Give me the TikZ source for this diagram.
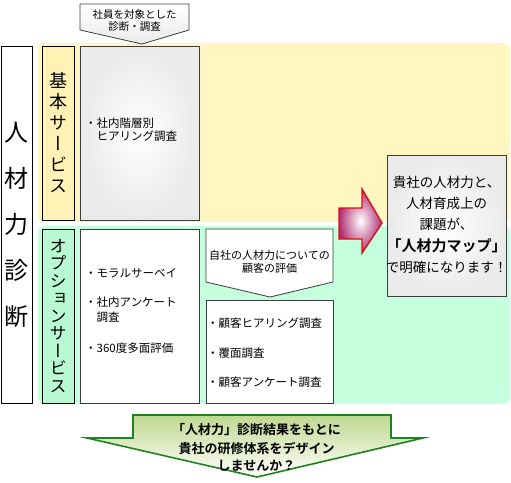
\documentclass[tikz,border=0pt]{standalone}
\usepackage{fontspec}
\setmainfont{Noto Sans CJK JP}[BoldFont={Noto Sans CJK JP Bold}]
\newfontfamily\vertfont[RawFeature=+vert]{Noto Sans CJK JP}
\definecolor{bgyellow}{RGB}{255,246,194}
\definecolor{bggreen}{RGB}{196,255,222}
\definecolor{lblyellow}{RGB}{255,242,180}
\definecolor{lblgreen}{RGB}{184,248,210}
\definecolor{boxgray}{RGB}{234,234,234}
\definecolor{linegray}{RGB}{60,60,60}
\definecolor{arrowpink}{RGB}{175,45,115}
\definecolor{arrowred}{RGB}{225,10,20}
\definecolor{callgreen}{RGB}{30,130,30}
\definecolor{callfill}{RGB}{192,216,144}
\tikzset{
  box/.style={draw=linegray, line width=0.8pt, inner sep=0pt},
  item/.style={anchor=west, inner sep=0pt, font=\fontsize{11.5}{13}\selectfont},
  note/.style={inner sep=0pt, font=\fontsize{10.5}{12}\selectfont},
  msg/.style={inner sep=0pt, font=\fontsize{13.5}{15}\selectfont}
}

\begin{document}
\begin{tikzpicture}[x=1pt,y=-1pt]
\useasboundingbox (0,0) rectangle (511,482);
% Backgrounds
\fill[bgyellow, rounded corners=6pt] (38,43) rectangle (510,222);
\fill[bggreen, rounded corners=6pt] (38,226) rectangle (510,404);

% Main label
\node[box, draw=black, fill=white, minimum width=31pt, minimum height=357pt, align=center,
  font=\fontsize{24}{46}\selectfont] (shindan) at (16.5,224.5) {人\\材\\力\\診\\断};

% Basic service
\node[box, draw=black, fill=lblyellow, minimum width=32pt, minimum height=174pt, align=center,
  font=\vertfont\fontsize{18}{21}\selectfont] (kihon) at (58,133) {基\\本\\サ\\ー\\ビ\\ス};
\node[box, minimum width=119pt, minimum height=174pt, inner color=white, outer color=boxgray] (kihonbox) at (139.5,133) {};
\node[item] (kihon1) at (85,123) {・社内階層別};
\node[item] (kihon2) at (96.5,136) {ヒアリング調査};

% Top callout
\draw[draw=linegray, line width=0.8pt, top color=white, bottom color=boxgray] (80,4) -- (189,4) -- (189,30) -- (142,44) -- (80,30) -- cycle;
\node[note] (target1) at (134.5,14.5) {社員を対象とした};
\node[note] (target2) at (134.5,27) {診断・調査};

% Option service
\node[box, draw=black, fill=lblgreen, minimum width=32pt, minimum height=174pt, align=center,
  font=\vertfont\fontsize{17}{17.5}\selectfont] (option) at (58,316) {オ\\プ\\シ\\ョ\\ン\\サ\\ー\\ビ\\ス};
\node[box, minimum width=119pt, minimum height=174pt, fill=white] (optbox) at (139.5,316) {};
\node[item] (opt1) at (85,273) {・モラルサーベイ};
\node[item] (opt2) at (85,302) {・社内アンケート};
\node[item] (opt3) at (96.5,317) {調査};
\node[item] (opt4) at (85,348) {・360度多面評価};

% Customer callout
\draw[draw=linegray, line width=0.8pt, fill=white] (206,229) -- (333,229) -- (333,282) -- (270,297) -- (206,282) -- cycle;
\node[note, font=\fontsize{11}{13}\selectfont] (kokyaku1) at (269.5,255) {自社の人材力についての};
\node[note, font=\fontsize{11}{13}\selectfont] (kokyaku2) at (269.5,268) {顧客の評価};
\node[box, minimum width=127pt, minimum height=103pt, fill=white] (custbox) at (269.5,351.5) {};
\node[item] (cust1) at (207,323) {・顧客ヒアリング調査};
\node[item] (cust2) at (207,353) {・覆面調査};
\node[item] (cust3) at (207,382) {・顧客アンケート調査};

% Arrow to result
\draw[draw=arrowred, line width=1.4pt, inner color=white, outer color=arrowpink]
  (339,208) -- (362,208) -- (362,189) -- (382,223) -- (362,253) -- (362,239) -- (339,239) -- cycle;

% Result
\node[box, minimum width=119pt, minimum height=141pt, inner color=white, outer color=boxgray] (result) at (446.5,225.5) {};
\node[msg] (res1) at (446.5,182) {貴社の人材力と、};
\node[msg] (res2) at (446.5,203) {人材育成上の};
\node[msg] (res3) at (446.5,224) {課題が、};
\node[msg, font=\bfseries\fontsize{15}{17}\selectfont] (res4) at (446.5,246) {「人材力マップ」};
\node[msg] (res5) at (446.5,267) {で明確になります！};

% Bottom callout
\draw[draw=callgreen, line width=1.6pt, top color=callfill, bottom color=white]
  (133,415) -- (391,415) -- (391,438) -- (423,438) -- (257,477) -- (87,438) -- (133,438) -- cycle;
\node[msg, font=\bfseries\fontsize{13}{15}\selectfont] (design1) at (256.5,430) {「人材力」診断結果をもとに};
\node[msg, font=\bfseries\fontsize{13}{15}\selectfont] (design2) at (256.5,448) {貴社の研修体系をデザイン};
\node[msg, font=\bfseries\fontsize{13}{15}\selectfont] (design3) at (256.5,466) {しませんか？};
\end{tikzpicture}
\end{document}
